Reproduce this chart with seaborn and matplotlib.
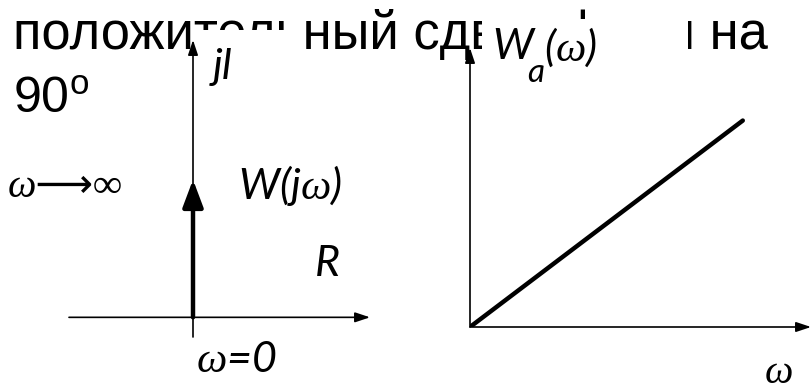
import matplotlib
matplotlib.use("Agg")
import matplotlib.pyplot as plt
import matplotlib.patches as mpatches
import seaborn as sns
import pandas as pd

sns.set_theme(style="white")
plt.rcParams["font.family"] = ["Liberation Sans", "DejaVu Sans"]
plt.rcParams["mathtext.fontset"] = "custom"
plt.rcParams["mathtext.it"] = "Lato:italic"
plt.rcParams["mathtext.rm"] = "Lato:italic"
plt.rcParams["mathtext.cal"] = "Liberation Serif:italic"

# ---- data ----
title_line1 = "положительный сдвиг фазы на"
title_line2 = "90"
# Nyquist (amplitude-phase) vector W(jω): from ω=0 to ω→∞
nyq_re = [0.0, 0.0]
nyq_im = [0.0, 1.4]
# Amplitude characteristic W_a(ω)
omega = [0.0, 8.0]
wa = [0.0, 7.4]

W, H = 811, 392
fig = plt.figure(figsize=(W / 100, H / 100), dpi=100)
fig.patch.set_facecolor("white")

def fx(px):
    return px / W

def fy(py):
    return 1 - py / H

# ---- title (partly hidden by label boxes, as in the slide) ----
fig.text(fx(13), fy(49), title_line1, fontsize=37.8, va="baseline", ha="left",
         color="black", zorder=1)
fig.text(fx(13), fy(113), title_line2 + r"$^{\mathregular{o}}$", fontsize=36,
         va="baseline", ha="left", color="black", zorder=1)

# white label boxes covering the title
fig.patches.append(mpatches.Rectangle((fx(203), fy(95)), fx(304) - fx(203), fy(30) - fy(95),
                                      transform=fig.transFigure, facecolor="white",
                                      edgecolor="none", zorder=2))
fig.patches.append(mpatches.Rectangle((fx(482), fy(95)), fx(688) - fx(482), fy(19) - fy(95),
                                      transform=fig.transFigure, facecolor="white",
                                      edgecolor="none", zorder=2))

# ---- left diagram: complex plane ----
axL = fig.add_axes([fx(69), fy(337), fx(370) - fx(69), fy(40) - fy(337)])
axL.set_zorder(5)
axL.patch.set_alpha(0)
axL.set_xlim(-1.24, 1.77)
axL.set_ylim(-0.2, 2.82)
axL.axis("off")
thin = dict(arrowstyle="-|>,head_length=0.9,head_width=0.3", color="black",
            lw=1.2, shrinkA=0, shrinkB=0, mutation_scale=10)
axL.annotate("", xy=(1.77, 0), xytext=(-1.24, 0), arrowprops=thin, annotation_clip=False)
axL.annotate("", xy=(0, 2.82), xytext=(0, -0.2), arrowprops=thin, annotation_clip=False)
axL.annotate("", xy=(nyq_re[1], nyq_im[1]), xytext=(nyq_re[0], nyq_im[0]),
             arrowprops=dict(arrowstyle="-|>,head_length=1.65,head_width=0.62",
                             color="black", lw=3.2, shrinkA=0, shrinkB=0,
                             mutation_scale=10), annotation_clip=False)

# ---- right diagram: W_a(ω) ----
axR = fig.add_axes([fx(470), fy(327), fx(811) - fx(470), fy(48) - fy(327)])
axR.set_zorder(5)
axR.patch.set_alpha(0)
df = pd.DataFrame({"omega": omega, "Wa": wa})
sns.lineplot(data=df, x="omega", y="Wa", ax=axR, color="black", lw=3.2)
axR.set_xlim(0, 10)
axR.set_ylim(0, 10)
axR.axis("off")
axR.annotate("", xy=(10, 0), xytext=(0, 0), arrowprops=thin, annotation_clip=False)
axR.annotate("", xy=(0, 10), xytext=(0, 0), arrowprops=thin, annotation_clip=False)

# ---- labels ----
lab = dict(fontsize=31, family=["Lato", "DejaVu Sans"], style="italic",
           va="baseline", ha="left", color="black", zorder=6)
fig.text(fx(213), fy(79), "jl", **lab)
fig.text(fx(238), fy(199), r"W(j$\mathcal{\omega}$)", **lab)
fig.text(fx(315), fy(276), "R", **lab)
fig.text(fx(196), fy(372), r"$\mathcal{\omega}$=0", **lab)
fig.text(fx(492), fy(59), "W", **lab)
fig.text(fx(527), fy(82), "a", **dict(lab, fontsize=24))
fig.text(fx(544), fy(61), r"($\mathcal{\omega}$)", **lab)
fig.text(fx(8), fy(197), "ω⟶∞", fontsize=29, style="italic",
         family=["Liberation Serif", "DejaVu Sans"], va="baseline", ha="left",
         color="black", zorder=6)
fig.text(fx(764), fy(383), r"$\mathcal{\omega}$", fontsize=29,
         va="baseline", ha="left", color="black", zorder=6)

fig.savefig("out.png", dpi=100, facecolor="white")
